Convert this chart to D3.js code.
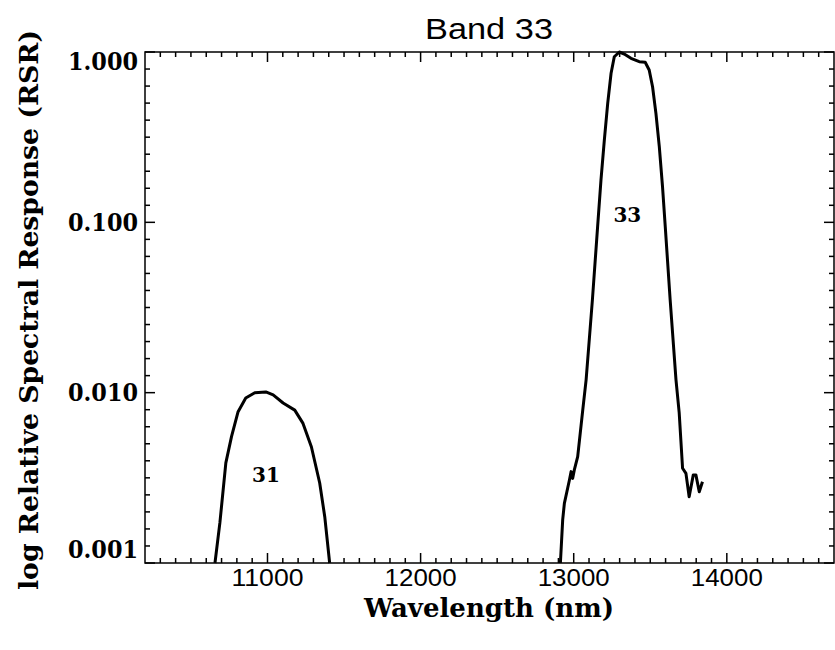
<!DOCTYPE html>
<html>
<head>
<meta charset="utf-8" />
<title>Band 33</title>
<script src="https://cdnjs.cloudflare.com/ajax/libs/d3/7.8.5/d3.min.js"></script>
<style>
body { margin: 0; background: #fff; }
.serif { font-family: "DejaVu Serif", "Liberation Serif", serif; font-weight: bold; }
.sans { font-family: "Liberation Sans", "DejaVu Sans", sans-serif; }
</style>
</head>
<body>
<svg id="chart" width="835" height="650"></svg>
<script>
// relative spectral response curves (wavelength in nm)
const band31_wl  = [10657, 10689, 10728, 10765, 10808, 10858, 10917, 10989, 11037, 11102, 11178, 11232, 11287, 11341, 11374, 11406];
const band31_rsr = [0.001, 0.00172, 0.00387, 0.00552, 0.00773, 0.0093, 0.01, 0.0101, 0.0097, 0.0087, 0.0079, 0.0066, 0.0048, 0.00295, 0.00187, 0.001];

const band33_wl  = [12913, 12928, 12939, 12972, 12983, 12993, 13004, 13026, 13059, 13081, 13122, 13156, 13178, 13200, 13222, 13244, 13265, 13298,
                    13330, 13374, 13428, 13467, 13493, 13515, 13537, 13559, 13580, 13598, 13630, 13668, 13689, 13711, 13733, 13754, 13781, 13798, 13820, 13841];
const band33_rsr = [0.001, 0.00179, 0.00224, 0.00307, 0.00344, 0.00314, 0.00352, 0.00421, 0.0079, 0.0119, 0.035, 0.094, 0.177, 0.304, 0.5, 0.75, 0.938, 1.0,
                    0.973, 0.918, 0.877, 0.87, 0.784, 0.625, 0.436, 0.278, 0.162, 0.094, 0.035, 0.0119, 0.0076, 0.0036, 0.00336, 0.00245, 0.00329, 0.00329, 0.00262, 0.003];

const band_names = ["31", "33"];
const band_label_wl = [10990, 13350];
const band_label_rsr = [0.0033, 0.11];

const x_ticks = [11000, 12000, 13000, 14000];
const y_ticks = [0.001, 0.01, 0.1, 1];
const y_tick_labels = ["0.001", "0.010", "0.100", "1.000"];

const svg = d3.select("#chart");
const plotLeft = 145, plotRight = 834, plotTop = 52, plotBottom = 563;

const x = d3.scaleLinear().domain([10200, 14700]).range([plotLeft, plotRight]);
const y = d3.scaleLog().domain([0.001, 1]).range([plotBottom, plotTop]);

const xMinor = d3.range(10300, 14700, 100).filter(v => v % 1000 != 0);
const yMinor = [];
for (let k = -3; k < 0; k++) {
	for (let j = 1; j < 10; j++) yMinor.push(Math.pow(10, k + j / 10));
}

// frame
svg.append("rect")
	.attr("x", plotLeft).attr("y", plotTop)
	.attr("width", plotRight - plotLeft).attr("height", plotBottom - plotTop)
	.attr("fill", "none").attr("stroke", "#000").attr("stroke-width", 1.5);

// ticks: all drawn inward, on all four sides
const ticks = svg.append("g").attr("stroke", "#000").attr("stroke-width", 1.5);
function xTick(v, len) {
	ticks.append("line").attr("x1", x(v)).attr("x2", x(v)).attr("y1", plotBottom).attr("y2", plotBottom - len);
	ticks.append("line").attr("x1", x(v)).attr("x2", x(v)).attr("y1", plotTop).attr("y2", plotTop + len);
}
function yTick(v, len) {
	ticks.append("line").attr("y1", y(v)).attr("y2", y(v)).attr("x1", plotLeft).attr("x2", plotLeft + len);
	ticks.append("line").attr("y1", y(v)).attr("y2", y(v)).attr("x1", plotRight).attr("x2", plotRight - len);
}
x_ticks.forEach(v => xTick(v, 10));
xMinor.forEach(v => xTick(v, 5));
y_ticks.forEach(v => yTick(v, 10));
yMinor.forEach(v => yTick(v, 5));

// tick labels
svg.append("g").selectAll("text").data(x_ticks).join("text")
	.attr("class", "sans")
	.attr("x", d => x(d)).attr("y", 586)
	.attr("text-anchor", "middle")
	.attr("font-size", 24)
	.attr("textLength", 72)
	.attr("lengthAdjust", "spacingAndGlyphs")
	.text(d => d);

svg.append("g").selectAll("text").data(y_ticks).join("text")
	.attr("class", "serif")
	.attr("x", 138)
	.attr("y", d => Math.min(Math.max(y(d), 61), 549))
	.attr("dy", "0.36em")
	.attr("text-anchor", "end")
	.attr("font-size", 24)
	.attr("textLength", 70)
	.attr("lengthAdjust", "spacingAndGlyphs")
	.text((d, i) => y_tick_labels[i]);

// curves
const line = d3.line().x(d => x(d[0])).y(d => y(d[1]));
const curves = [d3.zip(band31_wl, band31_rsr), d3.zip(band33_wl, band33_rsr)];
svg.append("g").selectAll("path").data(curves).join("path")
	.attr("d", line)
	.attr("fill", "none")
	.attr("stroke", "#000")
	.attr("stroke-width", 3)
	.attr("stroke-linejoin", "round");

svg.append("g").selectAll("text").data(band_names).join("text")
	.attr("class", "serif")
	.attr("x", (d, i) => x(band_label_wl[i]))
	.attr("y", (d, i) => y(band_label_rsr[i]))
	.attr("dy", "0.36em")
	.attr("text-anchor", "middle")
	.attr("font-size", 20)
	.text(d => d);

// titles
svg.append("text")
	.attr("class", "sans")
	.attr("x", 489).attr("y", 39)
	.attr("text-anchor", "middle")
	.attr("font-size", 30)
	.attr("textLength", 128)
	.attr("lengthAdjust", "spacingAndGlyphs")
	.text("Band 33");

svg.append("text")
	.attr("class", "serif")
	.attr("x", 489).attr("y", 617)
	.attr("text-anchor", "middle")
	.attr("font-size", 26)
	.attr("textLength", 250)
	.attr("lengthAdjust", "spacingAndGlyphs")
	.text("Wavelength (nm)");

svg.append("text")
	.attr("class", "serif")
	.attr("transform", "translate(38,310) rotate(-90)")
	.attr("text-anchor", "middle")
	.attr("font-size", 26)
	.attr("textLength", 560)
	.attr("lengthAdjust", "spacingAndGlyphs")
	.text("log Relative Spectral Response (RSR)");
</script>
</body>
</html>
